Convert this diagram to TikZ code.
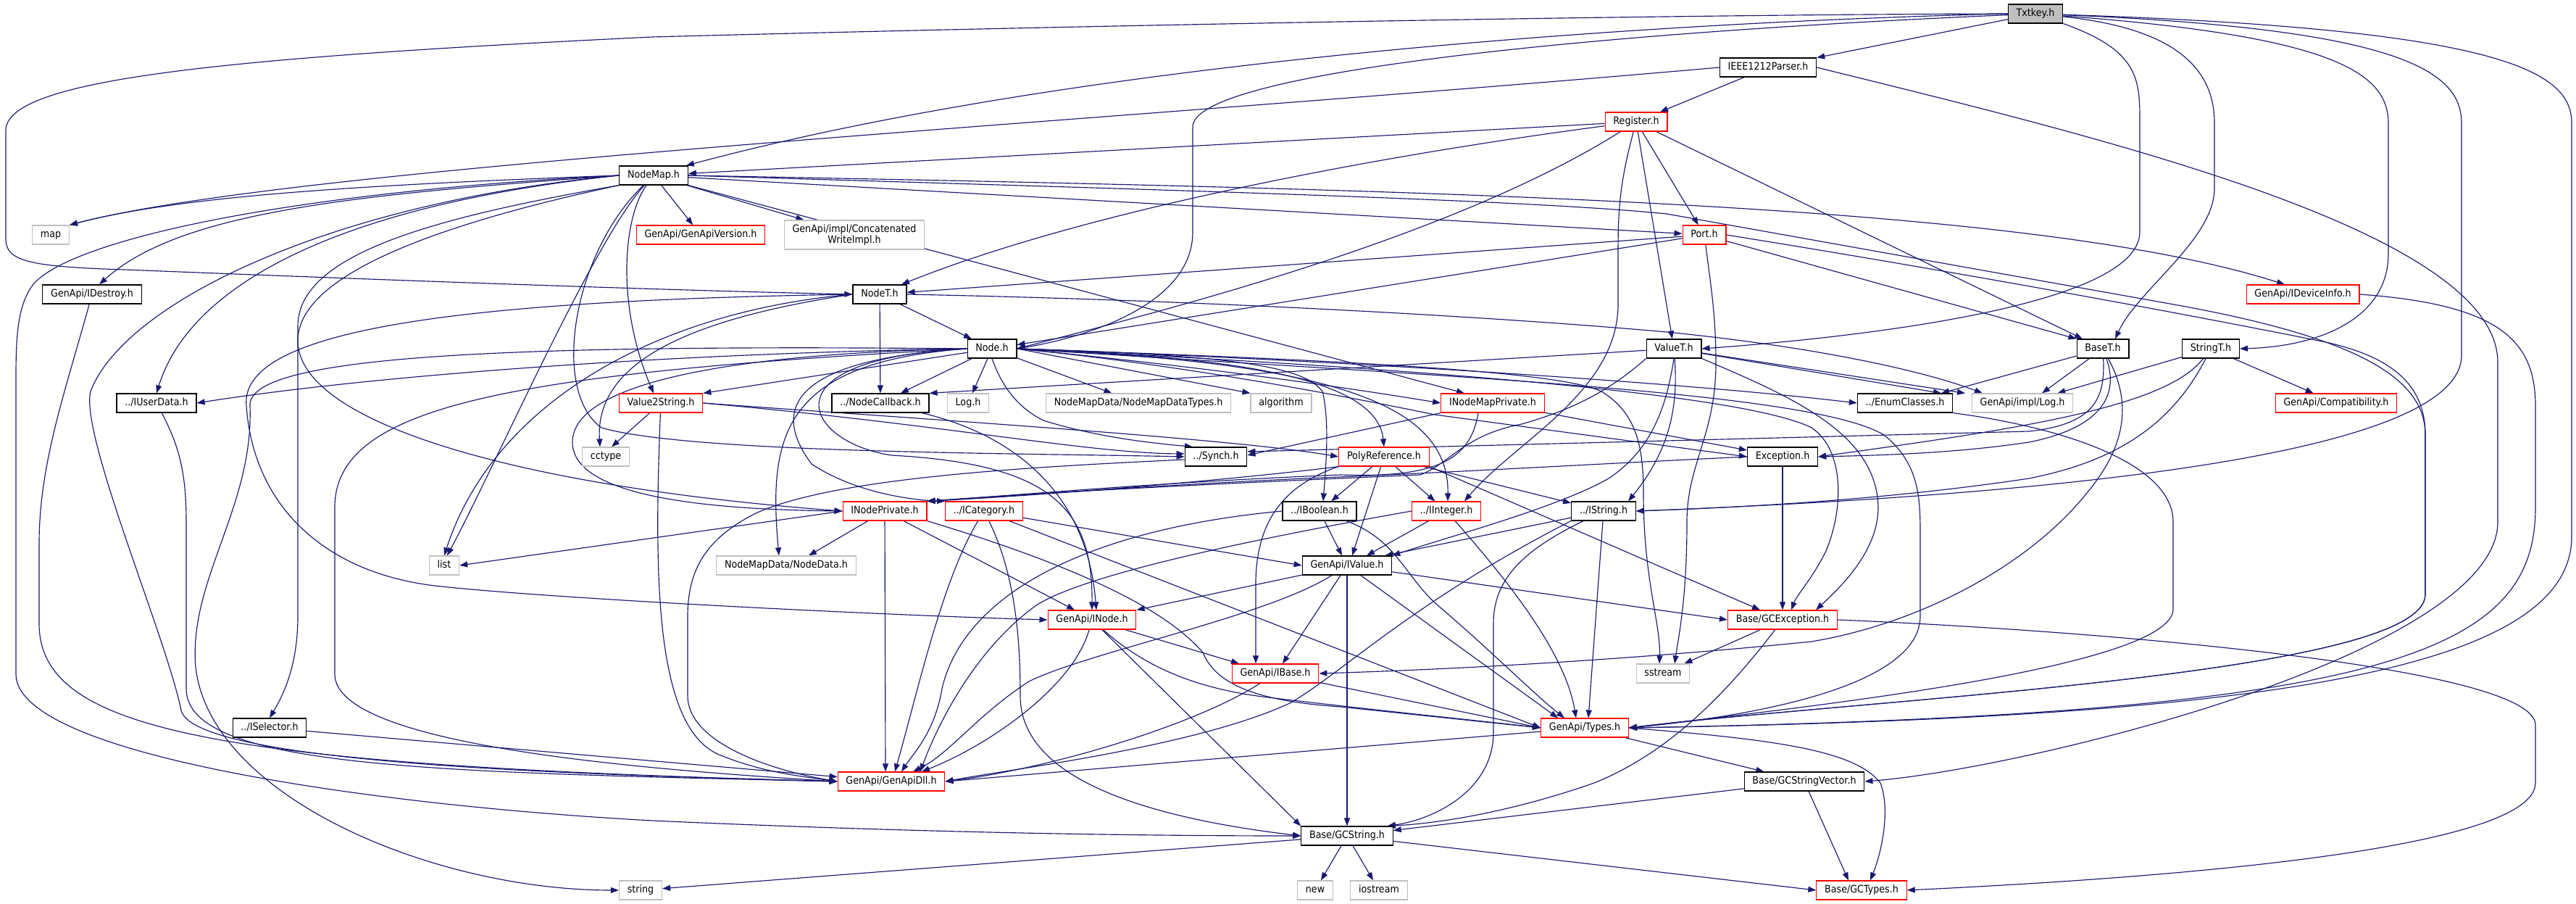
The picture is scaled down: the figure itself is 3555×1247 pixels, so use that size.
\documentclass[tikz,border=0pt]{standalone}
\usepackage{fontspec}
\setmainfont{DejaVu Sans}[FakeStretch=0.9]
\usetikzlibrary{arrows.meta}
\definecolor{mblue}{HTML}{191970}
\definecolor{lgray}{HTML}{BFBFBF}
\newcommand\nodefont{\fontsize{14.1}{14.5}\selectfont}
\pgfdeclarelayer{bg}
\pgfdeclarelayer{edges}
\pgfsetlayers{bg,edges,main}
\begin{document}
\begin{tikzpicture}[x=1pt,y=-1pt,
  nbase/.style={draw=black, fill=white, line width=1.2pt, minimum height=26pt, inner xsep=11.3pt, inner ysep=0pt, font=\nodefont},
  nb/.style={nbase, text height=10.4pt, text depth=3.2pt},
  nr/.style={nb, draw=red},
  ng/.style={nb, draw=lgray},
  nf/.style={nb, fill=lgray},
  ed/.style={draw=mblue, line width=1.15pt, -{Triangle[length=11pt,width=8pt]}}]
\begin{pgfonlayer}{bg}
\fill[white] (0,0) rectangle (3555,1247);
\end{pgfonlayer}
\path[use as bounding box] (0,0) rectangle (3555,1247);
% nodes
\node[nf] (txtkey) at (2809,19) {Txtkey.h};
\node[nb] (ieee) at (2440,93) {IEEE1212Parser.h};
\node[nr] (register) at (2258,168) {Register.h};
\node[nb] (nodemap) at (902,242) {NodeMap.h};
\node[ng] (map) at (70,324) {map};
\node[nr] (genapiver) at (967,324) {GenApi/GenApiVersion.h};
\node[nbase, draw=lgray, align=center, minimum height=40pt, inner ysep=2pt] (concat) at (1179,324) {GenApi/impl/Concatenated\\WriteImpl.h};
\node[nr] (port) at (2352,324) {Port.h};
\node[nr] (idevinfo) at (3178,406) {GenApi/IDeviceInfo.h};
\node[nb] (idestroy) at (127,406) {GenApi/IDestroy.h};
\node[nb] (nodet) at (1214,406) {NodeT.h};
\node[nb] (nodeh) at (1369,481) {Node.h};
\node[nb] (valuet) at (2310,481) {ValueT.h};
\node[nb] (baset) at (2902,481) {BaseT.h};
\node[nb] (stringt) at (3051,481) {StringT.h};
\node[nb] (iuserdata) at (216,556) {../IUserData.h};
\node[nr] (v2s) at (912,556) {Value2String.h};
\node[nb] (nodecb) at (1215,556) {../NodeCallback.h};
\node[ng] (logh) at (1336,556) {Log.h};
\node[ng] (nmdt) at (1571,556) {NodeMapData/NodeMapDataTypes.h};
\node[ng] (algo) at (1768,556) {algorithm};
\node[nr] (inmp) at (2060,556) {INodeMapPrivate.h};
\node[nb] (enumc) at (2629,556) {../EnumClasses.h};
\node[ng] (impllog) at (2791,556) {GenApi/impl/Log.h};
\node[nr] (compat) at (3224,556) {GenApi/Compatibility.h};
\node[ng] (cctype) at (836,630) {cctype};
\node[nb] (synch) at (1678,630) {../Synch.h};
\node[nr] (polyref) at (1910,630) {PolyReference.h};
\node[nb] (exception) at (2460,630) {Exception.h};
\node[nr] (inp) at (1221,705) {INodePrivate.h};
\node[nr] (icat) at (1358,705) {../ICategory.h};
\node[nb] (ibool) at (1821,705) {../IBoolean.h};
\node[nr] (iint) at (1996,705) {../IInteger.h};
\node[nb] (istr) at (2213,705) {../IString.h};
\node[ng] (list) at (613,780) {list};
\node[ng] (nodedata) at (1085,780) {NodeMapData/NodeData.h};
\node[nb] (ivalue) at (1859,780) {GenApi/IValue.h};
\node[nr] (inode) at (1507,855) {GenApi/INode.h};
\node[nr] (gcexc) at (2460,855) {Base/GCException.h};
\node[nr] (ibase) at (1760,929) {GenApi/IBase.h};
\node[ng] (sstream) at (2295,929) {sstream};
\node[nb] (isel) at (372,1004) {../ISelector.h};
\node[nr] (types) at (2187,1004) {GenApi/Types.h};
\node[nr] (dll) at (1230,1078) {GenApi/GenApiDll.h};
\node[nb] (gcsv) at (2490,1078) {Base/GCStringVector.h};
\node[nb] (gcstr) at (1859,1153) {Base/GCString.h};
\node[ng] (string) at (884,1228) {string};
\node[ng] (new) at (1815,1228) {new};
\node[ng] (iostream) at (1903,1228) {iostream};
\node[nr] (gctypes) at (2569,1228) {Base/GCTypes.h};
\begin{pgfonlayer}{edges}
% Txtkey
\draw[ed] (txtkey.west) .. controls (2300,30) and (1500,80) .. ([xshift=-3pt]nodemap.north east);
\draw[ed] (txtkey.west) .. controls (2300,20) and (1500,35) .. (900,51) .. controls (300,80) and (8,110) .. (8,180) -- (8,330) .. controls (8,360) and (40,368) .. (172,372) .. controls (500,385) and (900,400) .. (nodet.west);
\draw[ed] (txtkey) .. controls (2200,45) and (1646,100) .. (1646,175) -- (1646,320) .. controls (1646,420) and (1500,465) .. (nodeh.east);
\draw[ed] (txtkey) -- (ieee);
\draw[ed] (txtkey) .. controls (2953,70) and (2953,110) .. (2953,170) -- (2953,320) .. controls (2953,430) and (2500,470) .. (valuet.east);
\draw[ed] (txtkey) .. controls (3010,40) and (3056,100) .. (3056,170) -- (3056,260) .. controls (3056,330) and (2950,400) .. ([xshift=17pt]baset.north);
\draw[ed] (txtkey) .. controls (3220,50) and (3296,100) .. (3296,170) -- (3296,350) .. controls (3296,440) and (3200,478) .. (stringt.east);
\draw[ed] (txtkey) .. controls (3320,40) and (3397,100) .. (3397,170) -- (3397,490) .. controls (3397,620) and (2900,680) .. (istr.east);
\draw[ed] (txtkey) .. controls (3460,40) and (3549,100) .. (3549,170) -- (3549,740) .. controls (3549,930) and (3100,990) .. (types.east);
% IEEE
\draw[ed] (ieee) -- (register);
\draw[ed] (ieee.west) .. controls (1500,170) and (400,230) .. (map.north east);
\draw[ed] (ieee.east) .. controls (2900,190) and (3447,320) .. (3447,500) -- (3447,720) .. controls (3447,900) and (2800,1060) .. (gcsv.east);
% Register
\draw[ed] (register) -- (nodemap);
\draw[ed] (register) .. controls (1900,215) and (1500,290) .. ([xshift=30pt]nodet.north);
\draw[ed] (register) .. controls (2000,330) and (1600,430) .. (nodeh.east);
\draw[ed] (register) .. controls (2233,260) and (2233,300) .. (2233,360) -- (2233,420) .. controls (2233,540) and (2090,610) .. ([xshift=25pt]iint.north);
\draw[ed] (register) -- (valuet);
\draw[ed] (register) -- (port);
\draw[ed] (register) -- ([xshift=-28pt]baset.north);
% NodeMap
\draw[ed] (nodemap.west) .. controls (500,255) and (250,270) .. (map.north east);
\draw[ed] (nodemap) -- (genapiver);
\draw[ed] (nodemap) -- (concat);
\draw[ed] (nodemap) -- (port);
\draw[ed] (nodemap.east) .. controls (2000,262) and (2800,280) .. ([xshift=-25pt]idevinfo.north);
\draw[ed] (nodemap.east) .. controls (1600,262) and (2100,275) .. (2300,295) -- (3000,420) .. controls (3250,465) and (3347,520) .. (3347,600) -- (3347,820) .. controls (3347,930) and (2600,962) .. (types.east);
\draw[ed] (nodemap.south east) -- ([xshift=-39pt]inmp.north);
\draw[ed] (nodemap.west) .. controls (500,268) and (250,290) .. ([xshift=10pt]idestroy.north);
\draw[ed] (nodemap.west) .. controls (450,285) and (260,400) .. (iuserdata.north);
\draw[ed] (nodemap.west) .. controls (450,280) and (170,420) .. (125,540) .. controls (110,600) and (230,880) .. (250,980) .. controls (270,1060) and (900,1070) .. (dll.west);
\draw[ed] (nodemap.west) .. controls (400,265) and (100,330) .. (46,392) .. controls (25,420) and (22,460) .. (22,520) -- (22,930) .. controls (22,1040) and (500,1110) .. (900,1132) .. controls (1300,1150) and (1600,1153) .. (gcstr.west);
\draw[ed] (nodemap.south west) .. controls (600,300) and (411,350) .. (411,450) -- (411,850) .. controls (411,920) and (390,960) .. (isel.north);
\draw[ed] (nodemap) .. controls (860,300) and (850,420) .. ([xshift=-10pt]v2s.north);
\draw[ed] (nodemap) .. controls (820,330) and (680,650) .. ([xshift=4pt]list.north);
\draw[ed] (nodemap) .. controls (790,350) and (760,540) .. (830,590) .. controls (950,625) and (1400,625) .. (synch.west);
\draw[ed] (nodemap.south west) .. controls (600,310) and (411,380) .. (411,470) .. controls (411,580) and (700,670) .. (inp.west);
% NodeT
\draw[ed] (nodet) -- (nodeh);
\draw[ed] (nodet) -- (nodecb);
\draw[ed] (nodet.west) .. controls (900,430) and (680,560) .. (list.north);
\draw[ed] (nodet.west) .. controls (950,440) and (821,500) .. ([xshift=-8pt]cctype.north);
\draw[ed] (nodet.west) .. controls (600,415) and (330,460) .. (340,560) .. controls (350,700) and (450,790) .. (600,808) .. controls (750,825) and (1200,848) .. (inode.west);
\draw[ed] (nodet.east) .. controls (1700,415) and (2100,440) .. (2300,458) .. controls (2500,478) and (2650,510) .. ([xshift=-55pt]impllog.north);
% Node
\draw[ed] (nodeh) -- (nodecb);
\draw[ed] (nodeh) -- (logh);
\draw[ed] (nodeh) -- (nmdt);
\draw[ed] (nodeh.east) -- (algo.north west);
\draw[ed] (nodeh.south) .. controls (1385,540) and (1410,565) .. (1440,580) .. controls (1520,605) and (1600,612) .. ([xshift=-32pt]synch.north);
\draw[ed] (nodeh.east) .. controls (1600,500) and (1800,525) .. (inmp.west);
\draw[ed] (nodeh.east) .. controls (1700,492) and (1900,520) .. (polyref.north);
\draw[ed] (nodeh.east) .. controls (1700,490) and (1800,505) .. (1825,540) .. controls (1835,580) and (1830,640) .. ([xshift=5pt]ibool.north);
\draw[ed] (nodeh.east) .. controls (1850,500) and (2000,560) .. ([xshift=2pt]iint.north);
\draw[ed] (nodeh.east) .. controls (1800,495) and (2300,525) .. (enumc.west);
\draw[ed] (nodeh.east) .. controls (1600,500) and (1800,535) .. (1980,572) -- (exception.west);
\draw[ed] (nodeh.east) .. controls (1900,505) and (2400,540) .. (2500,590) .. controls (2545,620) and (2545,700) .. (2520,760) .. controls (2500,800) and (2480,820) .. ([xshift=12pt]gcexc.north);
\draw[ed] (nodeh.east) .. controls (2000,520) and (2500,540) .. (2600,600) .. controls (2650,640) and (2650,690) .. (2650,740) -- (2650,850) .. controls (2650,940) and (2450,985) .. (types.east);
\draw[ed] (nodeh.east) .. controls (1800,495) and (2150,510) .. (2210,540) .. controls (2260,570) and (2268,620) .. (2268,680) .. controls (2268,800) and (2292,860) .. ([xshift=-5pt]sstream.north);
\draw[ed] (nodeh.west) .. controls (900,488) and (500,520) .. (iuserdata.east);
\draw[ed] (nodeh) -- (v2s.north east);
\draw[ed] (nodeh.west) .. controls (700,475) and (340,490) .. (345,560) .. controls (350,700) and (260,800) .. (270,920) .. controls (290,1100) and (600,1228) .. (string.west);
\draw[ed] (nodeh.west) .. controls (700,515) and (462,560) .. (462,700) -- (462,930) .. controls (462,1030) and (900,1062) .. (dll.west);
\draw[ed] (nodeh.west) .. controls (1000,488) and (790,530) .. (790,610) .. controls (790,690) and (1000,703) .. (inp.west);
\draw[ed] (nodeh.west) .. controls (1100,495) and (1060,560) .. (1120,640) .. controls (1180,680) and (1260,690) .. (icat.north west);
\draw[ed] (nodeh.west) .. controls (1050,495) and (1110,610) .. (1230,628) .. controls (1450,640) and (1508,700) .. (inode.north);
\draw[ed] (nodeh.west) .. controls (1080,500) and (1060,600) .. ([xshift=-10pt]nodedata.north);
% ValueT
\draw[ed] (valuet) -- (nodecb.north east);
\draw[ed] (valuet) -- ([xshift=50pt]enumc.north);
\draw[ed] (valuet) -- ([xshift=-79pt]impllog.north);
\draw[ed] (valuet.south) .. controls (2300,560) and (2280,620) .. (2220,660) .. controls (2150,700) and (2000,740) .. (ivalue.north east);
\draw[ed] (valuet) .. controls (2316,560) and (2305,620) .. ([xshift=34pt]istr.north);
\draw[ed] (valuet.south east) .. controls (2480,550) and (2590,600) .. (2592,700) .. controls (2592,760) and (2540,810) .. ([xshift=46pt]gcexc.north);
\draw[ed] (valuet.south west) .. controls (2220,540) and (2170,565) .. (2100,585) .. controls (2020,600) and (2000,640) .. (1960,655) .. controls (1800,662) and (1500,675) .. (inp.north east);
% BaseT
\draw[ed] (baset) -- ([xshift=50pt]enumc.north);
\draw[ed] (baset) -- ([xshift=27pt]impllog.north);
\draw[ed] (baset) .. controls (2925,545) and (2900,590) .. (2800,610) .. controls (2700,625) and (2600,628) .. (exception.east);
\draw[ed] (baset) .. controls (2945,560) and (2930,620) .. (2880,680) .. controls (2800,780) and (2650,860) .. (2500,885) .. controls (2200,915) and (1950,925) .. (ibase.east);
\draw[ed] (baset) .. controls (2905,545) and (2895,585) .. (2800,595) -- ([yshift=7pt]synch.east);
% StringT
\draw[ed] (stringt) -- ([xshift=-22pt]impllog.north east);
\draw[ed] (stringt) -- (compat);
\draw[ed] (stringt) .. controls (2990,560) and (2800,590) .. (exception.east);
\draw[ed] (stringt) .. controls (2990,600) and (2900,640) .. (2800,660) .. controls (2600,690) and (2400,700) .. (istr.east);
% EnumClasses
\draw[ed] (enumc.south east) .. controls (2850,590) and (2999,640) .. (2999,720) -- (2999,840) .. controls (2999,920) and (2500,975) .. (types.east);
% Exception
\draw[ed] (exception) -- (gcexc);
\draw[ed] (exception.west) .. controls (2200,640) and (2000,652) .. (1800,660) .. controls (1550,672) and (1380,685) .. (inp.north east);
% INodeMapPrivate
\draw[ed] (inmp.south west) -- ([yshift=2pt]synch.east);
\draw[ed] (inmp) -- (exception);
\draw[ed] ([xshift=-20pt]inmp.south) .. controls (2030,630) and (1990,660) .. (1850,655) .. controls (1600,665) and (1380,685) .. (inp.north east);
% PolyReference
\draw[ed] (polyref) -- (ibool);
\draw[ed] (polyref) -- (iint);
\draw[ed] (polyref) -- ([xshift=7pt]ivalue.north);
\draw[ed] (polyref) -- (istr);
\draw[ed] (polyref.south west) .. controls (1760,655) and (1500,680) .. (inp.north east);
\draw[ed] (polyref.south west) .. controls (1770,670) and (1735,720) .. (1733,800) -- ([xshift=-27pt]ibase.north);
\draw[ed] (polyref.south east) -- ([xshift=-31pt]gcexc.north);
% Value2String
\draw[ed] (v2s) -- ([xshift=8pt]cctype.north);
\draw[ed] (v2s) .. controls (902,800) and (905,1000) .. (990,1040) .. controls (1050,1065) and (1100,1070) .. (dll.west);
\draw[ed] (v2s.east) .. controls (1300,580) and (1700,605) .. (polyref.west);
\draw[ed] (v2s.east) .. controls (1300,585) and (1500,625) .. ([yshift=4pt]synch.west);
% Synch
\draw[ed] ([yshift=-4pt]synch.west) .. controls (1400,645) and (1150,660) .. (1043,708) .. controls (980,740) and (949,780) .. (949,850) -- (949,960) .. controls (949,1020) and (1050,1060) .. (dll.west);
% INodePrivate
\draw[ed] (inp.west) -- (list.east);
\draw[ed] (inp) -- ([xshift=31pt]nodedata.north);
\draw[ed] (inp) -- ([xshift=-8pt]dll.north);
\draw[ed] (inp) -- ([xshift=-24pt]inode.north);
\draw[ed] (inp.south east) .. controls (1450,770) and (1600,830) .. (1660,900) .. controls (1680,950) and (1750,968) .. (1850,975) -- (types.west);
% ICategory
\draw[ed] (icat) .. controls (1300,800) and (1265,960) .. ([xshift=5pt]dll.north);
\draw[ed] (icat) -- (ivalue.west);
\draw[ed] (icat) -- (types.west);
\draw[ed] (icat) .. controls (1405,800) and (1408,900) .. (1408,960) .. controls (1408,1080) and (1600,1130) .. (gcstr.west);
% IBoolean
\draw[ed] (ibool) -- ([xshift=-7pt]ivalue.north);
\draw[ed] (ibool) .. controls (1930,745) and (1940,800) .. (1990,840) .. controls (2060,900) and (2120,960) .. ([xshift=-28pt]types.north);
\draw[ed] (ibool.west) .. controls (1500,730) and (1330,820) .. (1300,950) .. controls (1290,1010) and (1260,1040) .. ([xshift=14pt]dll.north);
% IInteger
\draw[ed] (iint) -- ([xshift=27pt]ivalue.north);
\draw[ed] (iint) .. controls (2080,800) and (2160,900) .. ([xshift=-12pt]types.north);
\draw[ed] (iint.west) .. controls (1750,740) and (1500,790) .. (1430,835) .. controls (1340,900) and (1290,1010) .. ([xshift=40pt]dll.north);
% IString
\draw[ed] (istr) -- ([xshift=-10pt]ivalue.north east);
\draw[ed] (istr) -- ([xshift=5pt]types.north);
\draw[ed] (istr.south west) .. controls (1950,830) and (1850,930) .. (1780,970) .. controls (1650,1030) and (1400,1060) .. (dll.east);
\draw[ed] (istr) .. controls (2100,760) and (2061,800) .. (2061,860) -- (2061,1010) .. controls (2061,1090) and (1980,1130) .. ([xshift=-8pt]gcstr.north east);
% IValue
\draw[ed] (ivalue) -- (inode.north east);
\draw[ed] (ivalue) -- ([xshift=10pt]ibase.north);
\draw[ed] (ivalue) .. controls (1750,850) and (1500,900) .. (1420,940) .. controls (1350,985) and (1310,1040) .. ([xshift=30pt]dll.north);
\draw[ed] (ivalue) -- ([xshift=-37pt]types.north);
\draw[ed] (ivalue) -- (gcexc.west);
\draw[ed] (ivalue) -- (gcstr);
% INode
\draw[ed] (inode) -- ([xshift=-50pt]ibase.north);
\draw[ed] (inode) .. controls (1480,950) and (1360,1030) .. ([xshift=42pt]dll.north);
\draw[ed] (inode) .. controls (1580,920) and (1650,950) .. (1750,962) .. controls (1900,980) and (2050,995) .. (types.west);
\draw[ed] (inode) -- (gcstr.north west);
% IBase
\draw[ed] (ibase) .. controls (1650,1000) and (1450,1060) .. (dll.east);
\draw[ed] (ibase) -- (types.west);
% Types
\draw[ed] (types) -- (dll.east);
\draw[ed] (types) -- (gcsv);
\draw[ed] (types.east) .. controls (2450,1020) and (2560,1035) .. (2595,1080) .. controls (2610,1120) and (2595,1180) .. ([xshift=12pt]gctypes.north);
% GCException
\draw[ed] (gcexc) -- ([xshift=-8pt]sstream.north east);
\draw[ed] (gcexc) .. controls (2380,960) and (2300,1040) .. (2200,1080) .. controls (2100,1115) and (2000,1135) .. ([xshift=-8pt]gcstr.north east);
\draw[ed] (gcexc.east) .. controls (2900,870) and (3499,920) .. (3499,1000) -- (3499,1080) .. controls (3499,1180) and (2900,1215) .. (gctypes.east);
% GCStringVector
\draw[ed] (gcsv) -- (gcstr);
\draw[ed] (gcsv) -- ([xshift=-18pt]gctypes.north);
% GCString
\draw[ed] (gcstr) -- (string);
\draw[ed] (gcstr) -- (new);
\draw[ed] (gcstr) -- (iostream);
\draw[ed] (gcstr) -- (gctypes.west);
% others
\draw[ed] (idevinfo.east) .. controls (3450,420) and (3499,470) .. (3499,560) -- (3499,700) .. controls (3499,900) and (3300,985) .. (types.east);
\draw[ed] (port) -- (nodet);
\draw[ed] (port) -- (nodeh);
\draw[ed] (port) -- (baset.north west);
\draw[ed] (port.east) .. controls (2700,375) and (3000,430) .. (3200,470) .. controls (3300,490) and (3347,530) .. (3347,600) -- (3347,820) .. controls (3347,930) and (2600,962) .. (types.east);
\draw[ed] (port) .. controls (2362,400) and (2368,440) .. (2368,500) .. controls (2368,600) and (2328,640) .. (2328,720) .. controls (2328,820) and (2318,870) .. ([xshift=16pt]sstream.north);
\draw[ed] (idestroy) .. controls (90,540) and (54,640) .. (54,750) -- (54,860) .. controls (54,1010) and (300,1055) .. (dll.west);
\draw[ed] (iuserdata) .. controls (250,620) and (257,660) .. (257,720) -- (257,950) .. controls (257,1060) and (600,1065) .. (dll.west);
\draw[ed] (isel) -- (dll);
\draw[ed] (nodecb) .. controls (1400,600) and (1500,680) .. ([xshift=6pt]inode.north);
\end{pgfonlayer}
\end{tikzpicture}
\end{document}
